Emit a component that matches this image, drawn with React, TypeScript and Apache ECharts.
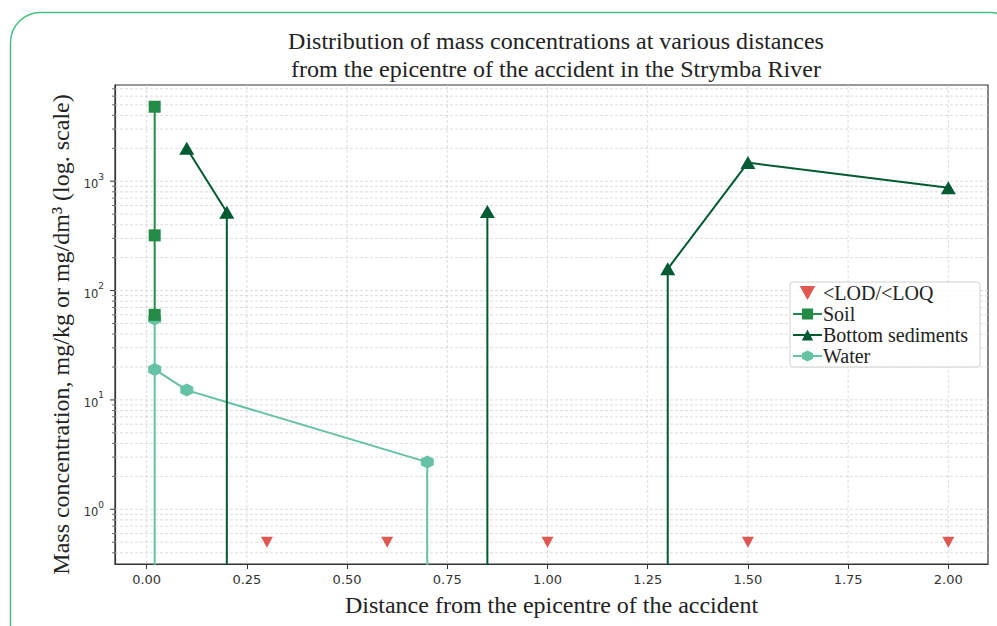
import React, { useEffect, useRef } from "react";
import * as echarts from "echarts";

// ---- data ----
const X_TICKS = [0, 0.25, 0.5, 0.75, 1.0, 1.25, 1.5, 1.75, 2.0];
const Y_DECADES = [1, 10, 100, 1000];
const Y_MINORS = [
  0.4, 0.5, 0.6, 0.7, 0.8, 0.9,
  2, 3, 4, 5, 6, 7, 8, 9,
  20, 30, 40, 50, 60, 70, 80, 90,
  200, 300, 400, 500, 600, 700, 800, 900,
  2000, 3000, 4000, 5000, 6000, 7000,
];
const X_MIN = -0.079;
const X_MAX = 2.099;
const Y_MIN = 0.316;
const Y_MAX = 7586;

// null = below detection, the line drops to the axis bottom
const FLOOR = 0.001;
const LOD_VALUE = 0.5;
const LOD_X = [0.3, 0.6, 1.0, 1.5, 2.0];
const SOIL: [number, number | null][] = [
  [0.02, 4800],
  [0.02, 320],
  [0.02, 60],
];
const SEDIMENTS: [number, number | null][] = [
  [0.1, 2000],
  [0.2, 520],
  [0.2, null],
  [0.85, null],
  [0.85, 530],
  [0.85, null],
  [1.3, null],
  [1.3, 158],
  [1.5, 1480],
  [2.0, 870],
];
const WATER: [number, number | null][] = [
  [0.02, null],
  [0.02, 55],
  [0.02, 19],
  [0.1, 12.3],
  [0.7, 2.7],
  [0.7, null],
];

const SERIF = "'Liberation Serif', 'DejaVu Serif', serif";
const SANS = "'DejaVu Sans', sans-serif";

function toItems(arr: [number, number | null][]) {
  return arr.map(([x, y]) =>
    y == null ? { value: [x, FLOOR], symbol: "none" } : { value: [x, y] }
  );
}

const HEX = "path://M0,-10 L8.66,-5 L8.66,5 L0,10 L-8.66,5 L-8.66,-5 Z";
const DOWN_TRI = "path://M0,0 L10,0 L5,9 Z";

export default function App() {
  const ref = useRef<HTMLDivElement>(null);
  useEffect(() => {
    if (!ref.current) return;
    const chart = echarts.init(ref.current, undefined, { renderer: "svg" });
    const hGrid = [
      ...Y_DECADES.map((v) => [X_MIN, v, 1]),
      ...Y_MINORS.map((v) => [X_MIN, v, 0]),
    ];
    const vGrid = X_TICKS.map((x) => [x, Y_MIN]);
    const option: any = {
      animation: false,
      backgroundColor: "#ffffff",
      graphic: [
        {
          type: "rect",
          z: -10,
          shape: { x: 10.5, y: 12.5, width: 1010, height: 700, r: 30 },
          style: { fill: "none", stroke: "#45c081", lineWidth: 1.5 },
        },
      ],
      title: {
        text:
          "Distribution of mass concentrations at various distances\nfrom the epicentre of the accident in the Strymba River",
        left: 551,
        top: 22,
        textAlign: "center",
        textStyle: {
          fontFamily: SERIF,
          fontSize: 24,
          fontWeight: "normal",
          color: "#222",
          lineHeight: 28,
        },
      },
      grid: {
        left: 115,
        top: 85,
        right: 9,
        bottom: 62,
        show: true,
        borderColor: "#333",
        borderWidth: 1.2,
        backgroundColor: "transparent",
      },
      legend: {
        orient: "vertical",
        left: 790,
        top: 282,
        padding: [1, 12, 1, 2],
        itemGap: 1,
        itemWidth: 29,
        itemHeight: 14,
        backgroundColor: "rgba(255,255,255,0.85)",
        borderColor: "#d0d0d0",
        borderWidth: 1,
        borderRadius: 3,
        data: ["<LOD/<LOQ", "Soil", "Bottom sediments", "Water"],
        textStyle: {
          fontFamily: SERIF,
          fontSize: 20,
          color: "#222",
          padding: [0, 0, 0, -4],
          lineHeight: 20,
        },
      },
      xAxis: {
        type: "value",
        min: X_MIN,
        max: X_MAX,
        name: "Distance from the epicentre of the accident",
        nameLocation: "middle",
        nameGap: 29,
        nameTextStyle: { fontFamily: SERIF, fontSize: 24, color: "#222" },
        axisLine: { show: true, onZero: false, lineStyle: { color: "#333", width: 1.2 } },
        axisTick: {
          show: true,
          length: 5,
          customValues: X_TICKS,
          lineStyle: { color: "#333", width: 1 },
        },
        axisLabel: {
          customValues: X_TICKS,
          formatter: (v: number) => v.toFixed(2),
          fontFamily: SANS,
          fontSize: 13,
          color: "#333",
          margin: 9,
        },
        splitLine: { show: false },
      },
      yAxis: {
        type: "log",
        logBase: 10,
        min: Y_MIN,
        max: Y_MAX,
        name: "Mass concentration, mg/kg or mg/dm³ (log. scale)",
        nameLocation: "middle",
        nameGap: 40,
        nameRotate: 90,
        nameTextStyle: {
          fontFamily: SERIF,
          fontSize: 24,
          color: "#222",
          padding: [0, 20, 0, 0],
        },
        axisLine: { show: true, onZero: false, lineStyle: { color: "#333", width: 1.2 } },
        axisTick: { show: false },
        axisLabel: {
          customValues: Y_DECADES,
          margin: 11,
          formatter: (v: number) => `{b|10}{s|${Math.round(Math.log10(v))}}`,
          rich: {
            b: { fontFamily: SANS, fontSize: 11.5, color: "#333", verticalAlign: "bottom", lineHeight: 18 },
            s: { fontFamily: SANS, fontSize: 9, color: "#333", verticalAlign: "top", lineHeight: 18 },
          },
        },
        splitLine: { show: false },
        minorSplitLine: { show: false },
      },
      series: [
        {
          type: "custom",
          name: "hgrid",
          z: 1,
          silent: true,
          data: hGrid,
          renderItem: (params: any, api: any) => {
            const cs = params.coordSys;
            const p = api.coord([api.value(0), api.value(1)]);
            const major = api.value(2) === 1;
            return {
              type: "group",
              children: [
                {
                  type: "line",
                  shape: { x1: cs.x, y1: p[1], x2: cs.x + cs.width, y2: p[1] },
                  style: { stroke: "#d4d4d4", lineWidth: 0.8, lineDash: [3, 2] },
                },
                {
                  type: "line",
                  shape: { x1: cs.x - (major ? 5 : 3), y1: p[1], x2: cs.x, y2: p[1] },
                  style: { stroke: "#333", lineWidth: major ? 1 : 0.7 },
                },
              ],
            };
          },
        },
        {
          type: "custom",
          name: "vgrid",
          z: 1,
          silent: true,
          data: vGrid,
          renderItem: (params: any, api: any) => {
            const cs = params.coordSys;
            const p = api.coord([api.value(0), api.value(1)]);
            return {
              type: "line",
              shape: { x1: p[0], y1: cs.y, x2: p[0], y2: cs.y + cs.height },
              style: { stroke: "#d4d4d4", lineWidth: 0.8, lineDash: [3, 2] },
            };
          },
        },
        {
          type: "scatter",
          name: "<LOD/<LOQ",
          z: 5,
          symbol: DOWN_TRI,
          symbolSize: [12, 11],
          itemStyle: { color: "#d73027" },
          data: LOD_X.map((x) => [x, LOD_VALUE]),
        },
        {
          type: "line",
          name: "Water",
          z: 3,
          clip: true,
          symbol: HEX,
          symbolSize: 13,
          lineStyle: { color: "#66c2a4", width: 2 },
          itemStyle: { color: "#66c2a4" },
          data: toItems(WATER),
        },
        {
          type: "line",
          name: "Soil",
          z: 4,
          clip: true,
          symbol: "rect",
          symbolSize: 12,
          lineStyle: { color: "#238b45", width: 2 },
          itemStyle: { color: "#238b45" },
          data: toItems(SOIL),
        },
        {
          type: "line",
          name: "Bottom sediments",
          z: 4,
          clip: true,
          symbol: "triangle",
          symbolSize: [15, 13],
          lineStyle: { color: "#005a32", width: 2 },
          itemStyle: { color: "#005a32" },
          data: toItems(SEDIMENTS),
        },
      ],
    };
    chart.setOption(option);
    return () => chart.dispose();
  }, []);
  return (
    <div
      ref={ref}
      style={{ position: "fixed", left: 0, top: 0, width: 997, height: 626 }}
    />
  );
}
